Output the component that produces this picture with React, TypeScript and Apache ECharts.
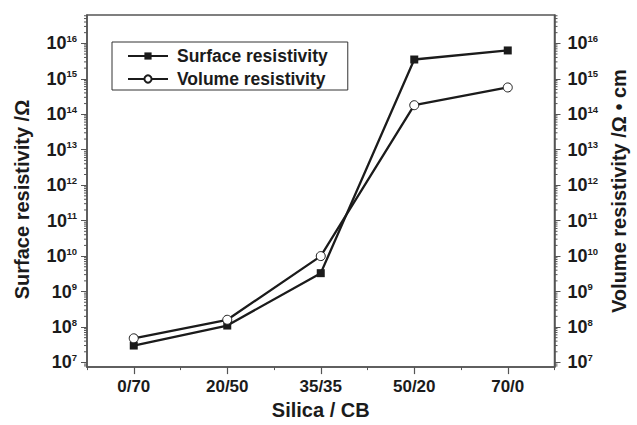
import React, { useEffect, useRef } from "react";
import * as echarts from "echarts";

// ---- data ----
const categories = ["0/70", "20/50", "35/35", "50/20", "70/0"];
const surfaceResistivity = [3.0e7, 1.1e8, 3.3e9, 3.5e15, 6.3e15];
const volumeResistivity = [4.8e7, 1.6e8, 1.0e10, 1.8e14, 5.7e14];
const seriesNames = ["Surface resistivity", "Volume resistivity"];
const yMin = 7.4e6;
const yMax = 6.3e16;

const FONT = "'Liberation Sans', Arial, Helvetica, sans-serif";
const INK = "#1b1b1b";
const AXIS = "#555555";

// log minor tick values (2..9 x 10^n) inside the axis range
const minorTickValues: number[] = [];
for (let e = 6; e <= 16; e++) {
  for (let k = 2; k <= 9; k++) {
    const v = k * Math.pow(10, e);
    if (v > yMin && v < yMax) minorTickValues.push(v);
  }
}

const labelRich = {
  b: { fontSize: 18, fontWeight: "bold", fontFamily: FONT, color: INK },
  s: { fontSize: 9.5, fontWeight: "bold", fontFamily: FONT, color: INK, padding: [0, 0, 10, 0] },
};
const expFormatter = (v: number) => {
  const e = Math.round(Math.log10(v));
  return `{b|10}{s|${e}}`;
};

export default function App() {
  const ref = useRef<HTMLDivElement>(null);
  useEffect(() => {
    document.body.style.margin = "0";
    if (!ref.current) return;
    const chart = echarts.init(ref.current, undefined, { renderer: "svg" });
    const yAxisCommon = {
      type: "log" as const,
      min: yMin,
      max: yMax,
      splitNumber: 10,
      splitLine: { show: false },
      axisLine: { show: true, lineStyle: { color: AXIS, width: 1.5 } },
      axisTick: { show: true, length: 6, lineStyle: { color: AXIS, width: 1 } },
      axisLabel: {
        showMinLabel: false,
        showMaxLabel: false,
        formatter: expFormatter,
        rich: labelRich,
      },
      nameLocation: "middle" as const,
      nameRotate: 90,
      nameTextStyle: { fontSize: 20, fontWeight: "bold", fontFamily: FONT, color: INK },
    };
    chart.setOption({
      animation: false,
      backgroundColor: "#ffffff",
      grid: {
        left: 87,
        right: 74,
        top: 15,
        bottom: 57,
        show: true,
        borderColor: AXIS,
        borderWidth: 1.5,
      },
      legend: {
        data: seriesNames,
        orient: "vertical",
        left: 112,
        top: 42,
        itemWidth: 40,
        itemHeight: 9,
        itemGap: 5,
        borderColor: "#333",
        borderWidth: 1,
        padding: [5, 20, 2, 15],
        textStyle: {
          fontSize: 17.5,
          fontWeight: "bold",
          fontFamily: FONT,
          color: INK,
          padding: [0, 0, 0, 4],
        },
      },
      xAxis: [
        {
          type: "category",
          data: categories,
          position: "bottom",
          boundaryGap: true,
          axisLine: { show: true, lineStyle: { color: AXIS, width: 1.5 } },
          axisTick: { show: true, alignWithLabel: true, length: 7, lineStyle: { color: AXIS, width: 1.2 } },
          axisLabel: {
            fontSize: 17,
            fontWeight: "bold",
            fontFamily: FONT,
            color: INK,
            margin: 11,
          },
          name: "Silica / CB",
          nameLocation: "middle",
          nameGap: 32,
          nameTextStyle: { fontSize: 20, fontWeight: "bold", fontFamily: FONT, color: INK },
        },
        {
          type: "category",
          data: categories,
          position: "bottom",
          boundaryGap: true,
          axisLine: { show: false },
          axisTick: { show: true, length: 3, lineStyle: { color: AXIS, width: 1 } },
          axisLabel: { show: false },
        },
      ],
      yAxis: [
        {
          ...yAxisCommon,
          position: "left",
          name: "Surface resistivity /Ω",
          nameGap: 55,
          nameTextStyle: { ...yAxisCommon.nameTextStyle, padding: [0, 17, 0, 0] },
          axisLabel: { ...yAxisCommon.axisLabel, margin: 10 },
        },
        {
          ...yAxisCommon,
          position: "right",
          name: "Volume resistivity /Ω • cm",
          nameGap: 52,
          axisLabel: { ...yAxisCommon.axisLabel, margin: 13 },
        },
      ],
      series: [
        {
          name: seriesNames[0],
          type: "line",
          xAxisIndex: 0,
          yAxisIndex: 0,
          data: surfaceResistivity,
          symbol: "rect",
          symbolSize: 8,
          lineStyle: { color: INK, width: 2.3 },
          itemStyle: { color: INK, borderColor: INK, borderWidth: 0 },
          z: 3,
        },
        {
          name: seriesNames[1],
          type: "line",
          xAxisIndex: 0,
          yAxisIndex: 1,
          data: volumeResistivity,
          symbol: "circle",
          symbolSize: 9,
          showAllSymbol: true,
          lineStyle: { color: INK, width: 2.3 },
          itemStyle: { color: "#ffffff", borderColor: INK, borderWidth: 1 },
          z: 3,
        },
        {
          name: "minorTicks",
          type: "custom",
          xAxisIndex: 0,
          yAxisIndex: 0,
          silent: true,
          clip: false,
          data: minorTickValues.map((v) => [0, v]),
          encode: { x: 0, y: 1 },
          renderItem: (params: any, api: any) => {
            const y = api.coord([0, api.value(1)])[1];
            const cs = params.coordSys;
            const style = { stroke: AXIS, lineWidth: 1 };
            return {
              type: "group",
              children: [
                { type: "line", shape: { x1: cs.x - 3, y1: y, x2: cs.x, y2: y }, style },
                {
                  type: "line",
                  shape: { x1: cs.x + cs.width, y1: y, x2: cs.x + cs.width + 3, y2: y },
                  style,
                },
              ],
            };
          },
          z: 1,
        },
      ],
    });
    return () => chart.dispose();
  }, []);
  return <div ref={ref} style={{ width: 637, height: 425 }} />;
}
